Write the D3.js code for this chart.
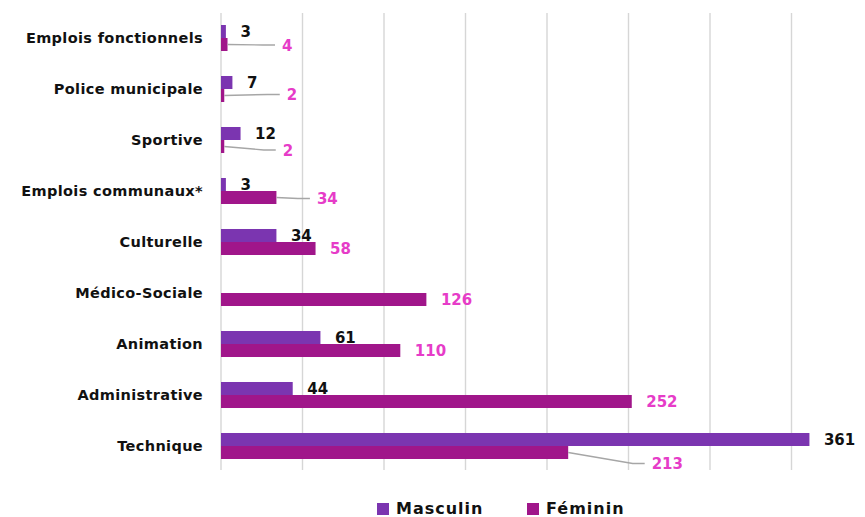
<!DOCTYPE html>
<html><head><meta charset="utf-8">
<script src="https://cdn.jsdelivr.net/npm/d3@7"></script>
<style>
html,body{margin:0;padding:0;background:#fff;}
svg{display:block;font-family:"DejaVu Sans",Verdana,sans-serif;}
</style></head>
<body>
<svg id="chart" width="865" height="517"></svg>
<script>
const categories = ["Emplois fonctionnels","Police municipale","Sportive","Emplois communaux*","Culturelle","Médico-Sociale","Animation","Administrative","Technique"];
const masculin = [3,7,12,3,34,null,61,44,361];
const feminin = [4,2,2,34,58,126,110,252,213];
const seriesNames = ["Masculin","Féminin"];
const xTicks = [0,50,100,150,200,250,300,350];

// style: label offsets (px) for Féminin labels moved with a leader line
const femLabelOffsets = [[40,0.5],[48,-1],[44,3.5],[26,1],[0,0],[0,0],[0,0],[0,0],[69,11]];
const colors = {"Masculin":"#7B35B0","Féminin":"#A0168A"};
const labelColors = {"Masculin":"#111111","Féminin":"#E63CC8"};

const svg = d3.select("#chart");
const x = d3.scaleLinear().domain([0,400]).range([221,873]);
const y = d3.scaleBand().domain(categories).range([12.5,471.5]).paddingInner(0.49).paddingOuter(0.245);
const ys = d3.scaleBand().domain(seriesNames).range([0,y.bandwidth()]);

// gridlines
svg.append("g").selectAll("line").data(xTicks).join("line")
  .attr("x1",d=>x(d)).attr("x2",d=>x(d))
  .attr("y1",13).attr("y2",470)
  .attr("stroke","#d6d6d6").attr("stroke-width",1.4);

// category labels
svg.append("g").selectAll("text").data(categories).join("text")
  .attr("x",203).attr("y",d=>y(d)+y.bandwidth()/2+5)
  .attr("text-anchor","end")
  .attr("font-size","14.5px").attr("font-weight","bold")
  .attr("letter-spacing","0.35px")
  .attr("fill","#111")
  .text(d=>d);

const series = [
  {name:"Masculin", values:masculin},
  {name:"Féminin", values:feminin}
];

series.forEach(s=>{
  const g = svg.append("g");
  const items = categories.map((c,i)=>({c,i,v:s.values[i]})).filter(d=>d.v!==null);
  g.selectAll("rect").data(items).join("rect")
    .attr("x",x(0))
    .attr("y",d=>y(d.c)+ys(s.name))
    .attr("width",d=>x(d.v)-x(0))
    .attr("height",ys.bandwidth())
    .attr("fill",colors[s.name]);

  items.forEach(d=>{
    const cy = y(d.c)+ys(s.name)+ys.bandwidth()/2;
    const x0 = x(d.v);
    let lx = x0+14.5, ly = cy;
    if(s.name==="Féminin"){
      const off = femLabelOffsets[d.i];
      if(off[0]!==0 || off[1]!==0){
        lx += off[0]; ly += off[1];
        const endX = lx-7;
        const elbowX = endX-12;
        g.append("polyline")
          .attr("points",`${x0},${cy} ${elbowX},${ly} ${endX},${ly}`)
          .attr("fill","none").attr("stroke","#a6a6a6").attr("stroke-width",1.4);
      }
    }
    g.append("text")
      .attr("x",lx).attr("y",ly+5.5)
      .attr("font-size","15px").attr("font-weight","bold")
      .attr("fill",labelColors[s.name])
      .text(d.v);
  });
});

// legend
const legendPos = [377,527];
const lg = svg.append("g");
seriesNames.forEach((n,i)=>{
  lg.append("rect").attr("x",legendPos[i]).attr("y",503).attr("width",12).attr("height",12).attr("fill",colors[n]);
  lg.append("text").attr("x",legendPos[i]+19).attr("y",514)
    .attr("font-size","16px").attr("font-weight","bold").attr("letter-spacing","1px")
    .attr("fill","#111").text(n);
});
</script>
</body></html>
